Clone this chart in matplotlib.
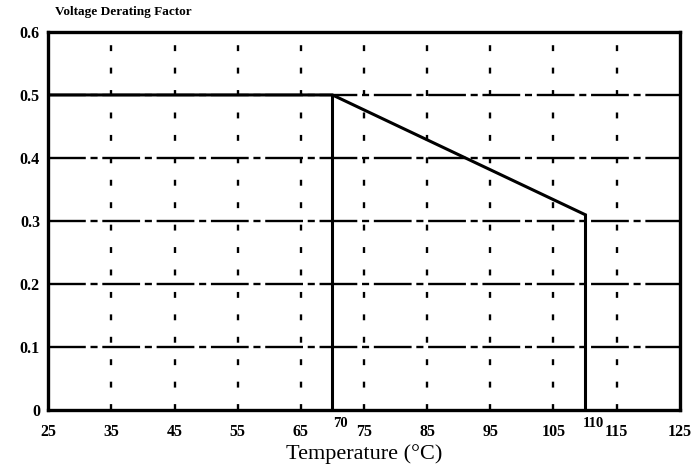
import matplotlib.pyplot as plt

# derating curve: flat to 70 C, linear down to 110 C, then cut off
curve_t = [25, 70, 110]
curve_v = [0.5, 0.5, 0.31]
cutoff_t = [70, 110]

x_ticks = [25, 35, 45, 55, 65, 75, 85, 95, 105, 115, 125]
x_extra = [70, 110]
y_ticks = [0, 0.1, 0.2, 0.3, 0.4, 0.5, 0.6]
y_labels = ["0", "0.1", "0.2", "0.3", "0.4", "0.5", "0.6"]
grid_t = [35, 45, 55, 65, 75, 85, 95, 105, 115]
grid_v = [0.1, 0.2, 0.3, 0.4, 0.5]

fnt = "Liberation Serif"

fig = plt.figure(figsize=(7, 4.7), dpi=100)
ax = fig.add_axes([0.069, 0.128, 0.902, 0.804])
ax.set_xlim(25, 125)
ax.set_ylim(0, 0.6)

for v in grid_v:
    ax.axhline(v, color="black", lw=1.7, ls=(0, (16, 2, 3, 2)), zorder=1)
for t in grid_t:
    ax.axvline(t, color="black", lw=1.7, ls=(0, (2.5, 7)), zorder=1)

ax.plot(curve_t, curve_v, color="black", lw=2.2, solid_joinstyle="miter", zorder=3)
for t, v in zip(cutoff_t, [curve_v[1], curve_v[2]]):
    ax.plot([t, t], [0, v], color="black", lw=2.2, zorder=3)

for s in ax.spines.values():
    s.set_linewidth(2.4)

ax.set_xticks(x_ticks)
ax.set_xticklabels([str(t) for t in x_ticks], fontfamily=fnt, fontweight="bold", fontsize=11.5)
ax.set_yticks(y_ticks)
ax.set_yticklabels(y_labels, fontfamily=fnt, fontweight="bold", fontsize=11.5)
ax.tick_params(axis="x", length=0, pad=10)
ax.tick_params(axis="y", length=0, pad=6)

# the two break points are labelled slightly raised, right of the line
for t in x_extra:
    ax.text(t + 1.3, -0.012, str(t), ha="center", va="top",
            fontfamily=fnt, fontweight="bold", fontsize=10.5)

ax.set_xlabel("Temperature (°C)", fontfamily=fnt, fontsize=16, labelpad=3)
fig.text(0.079, 0.962, "Voltage Derating Factor", fontfamily=fnt, fontweight="bold", fontsize=9.5,
         ha="left", va="bottom")

fig.savefig("out.png", dpi=100)
